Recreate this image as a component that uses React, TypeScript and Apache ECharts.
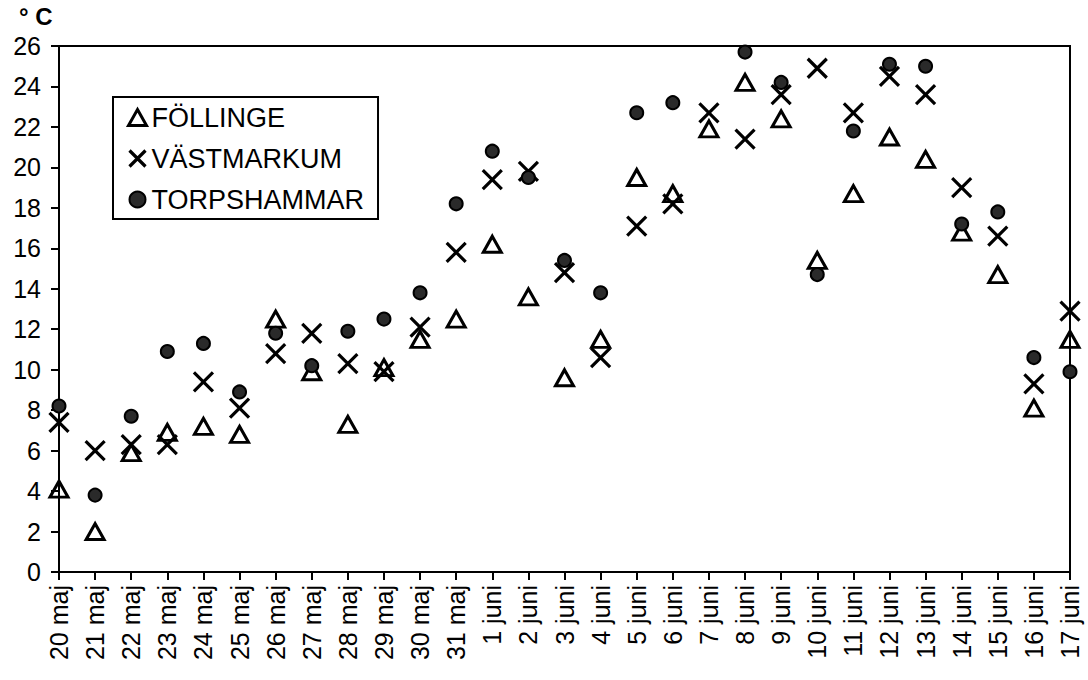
import React, { useEffect, useRef } from "react";
import * as echarts from "echarts";

const categories = [
  "20 maj", "21 maj", "22 maj", "23 maj", "24 maj", "25 maj", "26 maj", "27 maj", "28 maj", "29 maj", "30 maj", "31 maj",
  "1 juni", "2 juni", "3 juni", "4 juni", "5 juni", "6 juni", "7 juni", "8 juni", "9 juni", "10 juni", "11 juni",
  "12 juni", "13 juni", "14 juni", "15 juni", "16 juni", "17 juni",
];

const follinge = [4.1, 2.0, 5.9, 6.9, 7.2, 6.8, 12.5, 9.9, 7.3, 10.1, 11.5, 12.5, 16.2, 13.6, 9.6, 11.5, 19.5, 18.7, 21.9, 24.2, 22.4, 15.4, 18.7, 21.5, 20.4, 16.8, 14.7, 8.1, 11.5];
const vastmarkum = [7.4, 6.0, 6.3, 6.3, 9.4, 8.1, 10.8, 11.8, 10.3, 9.9, 12.1, 15.8, 19.4, 19.8, 14.8, 10.6, 17.1, 18.2, 22.7, 21.4, 23.6, 24.9, 22.7, 24.5, 23.6, 19.0, 16.6, 9.3, 12.9];
const torpshammar = [8.2, 3.8, 7.7, 10.9, 11.3, 8.9, 11.8, 10.2, 11.9, 12.5, 13.8, 18.2, 20.8, 19.5, 15.4, 13.8, 22.7, 23.2, null, 25.7, 24.2, 14.7, 21.8, 25.1, 25.0, 17.2, 17.8, 10.6, 9.9];

const seriesNames = ["FÖLLINGE", "VÄSTMARKUM", "TORPSHAMMAR"];

const FONT = "'Liberation Sans', Arial, sans-serif";
const X_PATH = "path://M0,0L20,20M20,0L0,20";

export default function App() {
  const ref = useRef<HTMLDivElement>(null);

  useEffect(() => {
    if (!ref.current) return;
    const chart = echarts.init(ref.current, null, { renderer: "svg" });

    const triStyle = { color: "rgba(255,255,255,0)", borderColor: "#000", borderWidth: 3, opacity: 1 };
    const xStyle = { color: "#000", borderColor: "#000", borderWidth: 3.2, opacity: 1 };
    const circStyle = { color: "#2a2a2a", borderColor: "#000", borderWidth: 2, opacity: 1 };

    chart.setOption({
      animation: false,
      backgroundColor: "#fff",
      title: {
        text: "° C",
        left: 19,
        top: 4,
        padding: 0,
        textStyle: { fontFamily: FONT, fontSize: 24, lineHeight: 24, fontWeight: "bold", color: "#000" },
      },
      legend: {
        orient: "vertical",
        left: 113,
        top: 97,
        padding: [7, 14, 6, 14],
        borderColor: "#000",
        borderWidth: 2,
        backgroundColor: "#fff",
        itemGap: 14,
        itemWidth: 18,
        itemHeight: 16,
        textStyle: { fontFamily: FONT, fontSize: 27, color: "#000", padding: [0, 0, 0, 0] },
        data: [
          { name: seriesNames[0], icon: "triangle", itemStyle: triStyle },
          { name: seriesNames[1], icon: X_PATH, itemStyle: xStyle },
          { name: seriesNames[2], icon: "circle", itemStyle: circStyle },
        ],
      },
      grid: {
        left: 59,
        right: 18,
        top: 46,
        bottom: 108,
        show: true,
        borderColor: "#000",
        borderWidth: 2,
        containLabel: false,
      },
      xAxis: {
        type: "category",
        data: categories,
        boundaryGap: false,
        axisLine: { show: true, lineStyle: { color: "#000", width: 2 } },
        axisTick: { show: true, length: 8, lineStyle: { color: "#000", width: 2 }, alignWithLabel: true },
        axisLabel: {
          interval: 0,
          rotate: 90,
          margin: 13,
          fontFamily: FONT,
          fontSize: 25,
          color: "#000",
        },
        splitLine: { show: false },
      },
      yAxis: {
        type: "value",
        min: 0,
        max: 26,
        interval: 2,
        axisLine: { show: true, lineStyle: { color: "#000", width: 2 } },
        axisTick: { show: true, length: 8, lineStyle: { color: "#000", width: 2 } },
        axisLabel: { margin: 18, fontFamily: FONT, fontSize: 25, lineHeight: 25, color: "#000" },
        splitLine: { show: false },
      },
      series: [
        {
          name: seriesNames[0],
          type: "scatter",
          data: follinge,
          symbol: "triangle",
          symbolSize: [18, 16],
          itemStyle: triStyle,
          clip: false,
          z: 2,
        },
        {
          name: seriesNames[1],
          type: "scatter",
          data: vastmarkum,
          symbol: X_PATH,
          symbolSize: 19,
          itemStyle: xStyle,
          clip: false,
          z: 3,
        },
        {
          name: seriesNames[2],
          type: "scatter",
          data: torpshammar,
          symbol: "circle",
          symbolSize: 13,
          itemStyle: circStyle,
          clip: false,
          z: 4,
        },
      ],
    });

    return () => chart.dispose();
  }, []);

  return (
    <div
      ref={ref}
      style={{ position: "fixed", left: 0, top: 0, width: 1088, height: 680, background: "#fff" }}
    />
  );
}
